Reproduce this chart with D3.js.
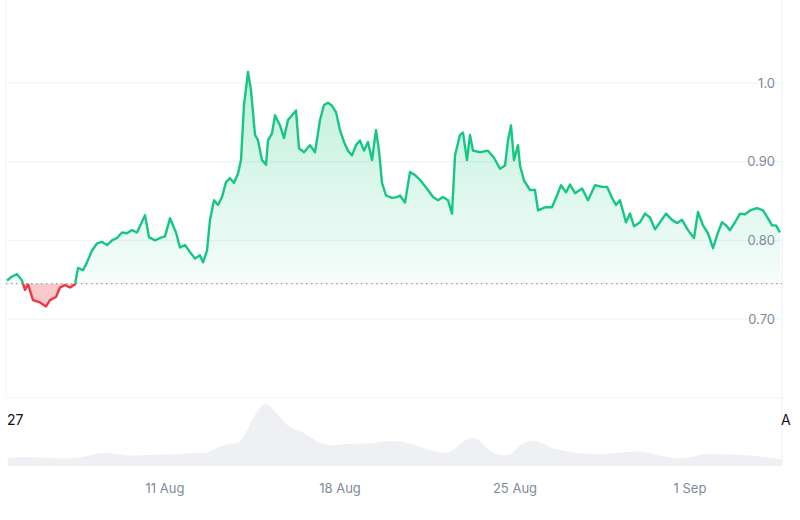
<!DOCTYPE html>
<html lang="en">
<head>
<meta charset="UTF-8">
<title>Price chart</title>
<style>
  body { margin: 0; background: #fff; font-family: Inter, Arial, sans-serif; }
  .tick-label { fill: #808a9d; font-size: 13px; }
</style>
</head>
<body>
<svg id="chart" width="800" height="520"></svg>
<script src="https://d3js.org/d3.v7.min.js"></script>
<script>
// price samples: day of August (values past 31 run into September)
const priceDays = [4.68,4.88,5.08,5.28,5.40,5.52,5.72,6.00,6.24,6.40,6.64,6.80,7.00,7.20,7.40,7.52,7.72,7.88,8.08,8.28,8.48,8.68,8.88,9.08,9.28,9.48,9.68,9.88,10.20,10.36,10.60,10.80,11.00,11.20,11.44,11.60,11.80,12.00,12.20,12.40,12.52,12.68,12.80,12.96,13.12,13.28,13.44,13.60,13.76,13.92,14.04,14.16,14.32,14.44,14.60,14.72,14.88,15.04,15.12,15.28,15.40,15.60,15.76,15.92,16.08,16.24,16.36,16.56,16.80,17.00,17.20,17.36,17.52,17.68,17.84,18.00,18.16,18.32,18.48,18.64,18.80,18.96,19.12,19.28,19.44,19.56,19.68,19.84,20.08,20.28,20.40,20.60,20.80,21.00,21.20,21.52,21.72,21.92,22.12,22.32,22.48,22.60,22.80,22.92,23.08,23.20,23.32,23.60,23.92,24.16,24.40,24.60,24.72,24.84,24.96,25.12,25.20,25.36,25.48,25.60,25.80,25.92,26.20,26.48,26.68,26.84,27.04,27.20,27.40,27.68,27.92,28.20,28.48,28.68,28.88,29.04,29.20,29.36,29.44,29.60,29.76,30.00,30.20,30.40,30.60,30.80,31.04,31.28,31.48,31.68,31.92,32.16,32.32,32.52,32.72,32.92,33.12,33.28,33.44,33.60,33.80,34.00,34.20,34.40,34.68,34.92,35.12,35.28,35.44,35.60];
const prices = [0.749,0.754,0.757,0.749,0.737,0.744,0.724,0.721,0.716,0.724,0.728,0.740,0.743,0.740,0.744,0.765,0.762,0.772,0.787,0.796,0.798,0.794,0.800,0.803,0.810,0.809,0.813,0.810,0.832,0.804,0.800,0.803,0.805,0.828,0.810,0.791,0.794,0.785,0.777,0.781,0.772,0.787,0.826,0.851,0.845,0.855,0.874,0.879,0.873,0.885,0.902,0.972,1.014,0.991,0.934,0.927,0.902,0.896,0.927,0.936,0.959,0.946,0.930,0.953,0.959,0.965,0.917,0.912,0.921,0.912,0.953,0.972,0.975,0.971,0.963,0.940,0.925,0.914,0.908,0.921,0.927,0.914,0.925,0.902,0.940,0.914,0.873,0.857,0.854,0.855,0.857,0.848,0.887,0.883,0.877,0.864,0.855,0.851,0.855,0.851,0.834,0.908,0.934,0.937,0.902,0.934,0.914,0.912,0.914,0.905,0.891,0.895,0.927,0.946,0.902,0.921,0.895,0.876,0.870,0.864,0.864,0.838,0.842,0.842,0.857,0.870,0.861,0.871,0.860,0.866,0.851,0.870,0.868,0.868,0.854,0.845,0.851,0.832,0.823,0.834,0.818,0.823,0.834,0.829,0.814,0.823,0.834,0.826,0.822,0.826,0.813,0.803,0.836,0.819,0.809,0.790,0.810,0.823,0.819,0.813,0.823,0.834,0.833,0.838,0.841,0.838,0.828,0.819,0.819,0.810];
const openPrice = 0.745;

// relative volume samples
const volumeDays = [4.71,5.42,6.45,7.27,8.09,8.71,9.12,9.73,10.55,11.38,12.20,12.60,13.02,13.63,14.04,14.45,14.86,15.07,15.48,15.89,16.30,16.71,17.12,17.73,18.35,19.17,19.99,20.81,21.63,22.45,22.86,23.48,23.89,24.50,24.91,25.12,25.84,26.35,26.96,27.99,29.02,30.04,31.07,31.89,32.50,33.12,34.14,35.17,35.68];
const volumes = [25,27,25,20,35,43,35,30,35,35,42,35,55,70,65,140,185,195,160,120,110,95,70,60,70,65,80,70,45,35,75,95,45,30,35,65,85,55,45,35,37,50,25,20,40,35,35,25,20];

const yTicks = [1.0, 0.9, 0.8, 0.7];
const yTickLabels = ["1.0", "0.90", "0.80", "0.70"];
const xTickDays = [11, 18, 25, 32];
const xTickLabels = ["11 Aug", "18 Aug", "25 Aug", "1 Sep"];

const toDate = d => new Date(Date.UTC(2024, 7, 1) + (d - 1) * 864e5);

const svg = d3.select("#chart");
const left = 6, right = 782;

const x = d3.scaleUtc().domain([toDate(4.64), toDate(35.68)]).range([left, right]);
const y = d3.scaleLinear().domain([0.7, 1.0]).range([319, 83]);
const yv = d3.scaleLinear().domain([0, 195]).range([466, 402]);

const priceData = priceDays.map((d, i) => ({ t: toDate(d), v: prices[i] }));
const volData = volumeDays.map((d, i) => ({ t: toDate(d), v: volumes[i] }));
const baseY = y(openPrice);

// frame and grid
svg.append("line").attr("x1", left).attr("x2", left).attr("y1", 0).attr("y2", 398).attr("stroke", "#f3f4f6");
svg.append("line").attr("x1", right).attr("x2", right).attr("y1", 0).attr("y2", 466).attr("stroke", "#eceef1");
svg.append("line").attr("x1", left).attr("x2", right).attr("y1", 398).attr("y2", 398).attr("stroke", "#eff2f5");
svg.selectAll(".grid").data(yTicks).join("line")
  .attr("x1", left).attr("x2", right)
  .attr("y1", d => y(d)).attr("y2", d => y(d))
  .attr("stroke", "#eff2f5");

// volume
svg.append("path").datum(volData)
  .attr("fill", "#eef0f4")
  .attr("d", d3.area().x(d => x(d.t)).y0(466).y1(d => yv(d.v)).curve(d3.curveBasis));

// gradients and clips
const defs = svg.append("defs");
const g1 = defs.append("linearGradient").attr("id", "gUp").attr("x1", 0).attr("x2", 0).attr("y1", 0).attr("y2", 1)
  .attr("gradientUnits", "userSpaceOnUse").attr("y1", 70).attr("y2", baseY);
g1.append("stop").attr("offset", 0).attr("stop-color", "#16c784").attr("stop-opacity", 0.28);
g1.append("stop").attr("offset", 1).attr("stop-color", "#16c784").attr("stop-opacity", 0.04);
defs.append("clipPath").attr("id", "above").append("rect").attr("x", 0).attr("y", 0).attr("width", 800).attr("height", baseY);
defs.append("clipPath").attr("id", "below").append("rect").attr("x", 0).attr("y", baseY).attr("width", 800).attr("height", 520 - baseY);

const area = d3.area().x(d => x(d.t)).y0(baseY).y1(d => y(d.v));
const line = d3.line().x(d => x(d.t)).y(d => y(d.v));

svg.append("path").datum(priceData).attr("clip-path", "url(#above)").attr("fill", "url(#gUp)").attr("d", area);
svg.append("path").datum(priceData).attr("clip-path", "url(#below)").attr("fill", "rgba(234,57,67,0.28)").attr("d", area);

svg.append("line").attr("x1", left).attr("x2", right).attr("y1", baseY).attr("y2", baseY)
  .attr("stroke", "#9aa0a8").attr("stroke-width", 1.2).attr("stroke-dasharray", "1.5,3.5");

svg.append("path").datum(priceData).attr("clip-path", "url(#above)").attr("fill", "none")
  .attr("stroke", "#16c784").attr("stroke-width", 2.4).attr("stroke-linejoin", "round").attr("d", line);
svg.append("path").datum(priceData).attr("clip-path", "url(#below)").attr("fill", "none")
  .attr("stroke", "#ea3943").attr("stroke-width", 2.4).attr("stroke-linejoin", "round").attr("d", line);

// y labels
svg.selectAll(".ylab").data(yTicks).join("text")
  .attr("class", "tick-label").attr("x", 775).attr("y", d => y(d)).attr("dy", "0.35em")
  .attr("text-anchor", "end").text((d, i) => yTickLabels[i]);

// x labels
svg.selectAll(".xlab").data(xTickDays).join("text")
  .attr("class", "tick-label").attr("x", d => x(toDate(d))).attr("y", 493)
  .attr("text-anchor", "middle").text((d, i) => xTickLabels[i]);

// clipped edge labels
svg.append("text").attr("x", 7).attr("y", 425).attr("font-size", 14).attr("fill", "#111").text("27");
svg.append("text").attr("x", 781).attr("y", 425).attr("font-size", 14).attr("fill", "#111").text("A");
</script>
</body>
</html>
